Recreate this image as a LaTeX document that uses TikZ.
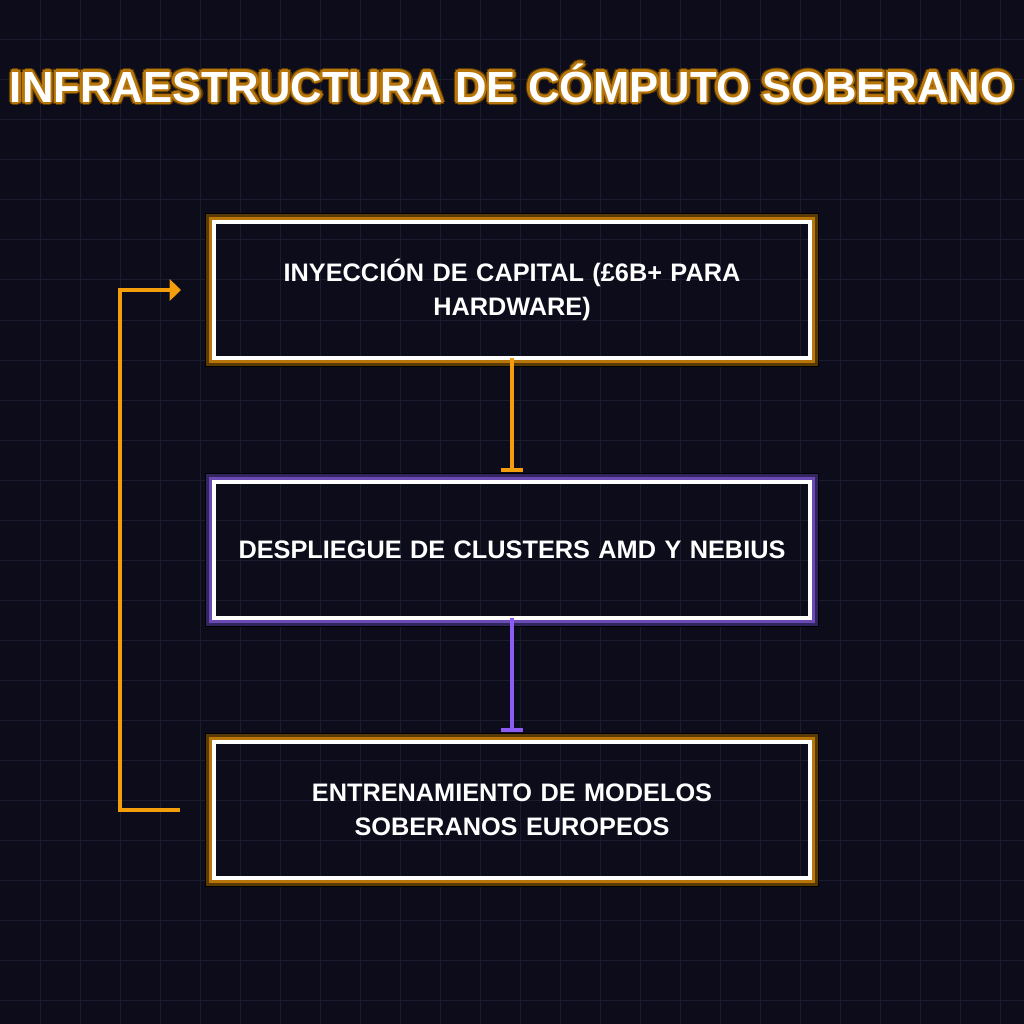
\documentclass[tikz,border=0pt]{standalone}
\usepackage{fontspec}
\setmainfont{Liberation Sans}
\usetikzlibrary{arrows.meta}

\definecolor{bgnavy}{HTML}{0C0C1A}
\definecolor{gridnavy}{HTML}{1C1C30}
\definecolor{amber}{HTML}{F59E0B}
\definecolor{amberglow}{HTML}{B8760A}
\definecolor{amberdark}{HTML}{5A3A05}
\definecolor{violet}{HTML}{8B5CF6}
\definecolor{violetglow}{HTML}{6A4BB5}
\definecolor{violetdark}{HTML}{33265F}

\tikzset{
    stage/.style={draw=white, line width=1mm, minimum width=149mm, minimum height=34mm,
        inner sep=0pt, outer sep=0pt, text width=140mm, align=center, text=white,
        font=\fontsize{18}{24}\selectfont\bfseries},
    headline/.style={font=\fontsize{31}{34}\selectfont\bfseries, inner sep=0pt},
    flow/.style={line width=1mm, -{Bar[width=15pt]}, shorten >=2.5mm},
}

\begin{document}
\begin{tikzpicture}[x=0.25mm, y=-0.25mm]
    \useasboundingbox (0,0) rectangle (1024,1024);
    \fill[bgnavy] (0,0) rectangle (1024,1024);
    \foreach \g in {40,80,...,1000} {
      \draw[gridnavy, line width=0.25mm] (\g,0) -- (\g,1024);
      \draw[gridnavy, line width=0.25mm] (0,\g) -- (1024,\g);
    }
    % title with its halo
    \foreach \a in {0,45,...,315} {
      \node[headline, text=amberdark] (halo\a) at ([shift={(\a:3.8)}]512,83) {INFRAESTRUCTURA DE CÓMPUTO SOBERANO};
    }
    \foreach \a in {0,45,...,315} {
      \node[headline, text=amberglow] (ring\a) at ([shift={(\a:2.4)}]512,83) {INFRAESTRUCTURA DE CÓMPUTO SOBERANO};
    }
    \node[headline, text=white] (title) at (512,83) {INFRAESTRUCTURA DE CÓMPUTO SOBERANO};

    \node[stage] (cap) at (512,290) {INYECCIÓN DE CAPITAL (£6B+ PARA\\HARDWARE)};
    \node[stage] (run) at (512,550) {DESPLIEGUE DE CLUSTERS AMD Y NEBIUS};
    \node[stage] (train) at (512,810) {ENTRENAMIENTO DE MODELOS\\SOBERANOS EUROPEOS};

    \foreach \n/\c/\d in {cap/amberglow/amberdark,run/violetglow/violetdark,train/amberglow/amberdark} {
      \draw[black, line width=0.25mm] ([shift={(-8.5,-8.5)}]\n.north west) rectangle ([shift={(8.5,8.5)}]\n.south east);
      \draw[\d, line width=0.75mm] ([shift={(-6.5,-6.5)}]\n.north west) rectangle ([shift={(6.5,6.5)}]\n.south east);
      \draw[\c, line width=0.75mm] ([shift={(-3.5,-3.5)}]\n.north west) rectangle ([shift={(3.5,3.5)}]\n.south east);
    }

    \draw[flow, amber] (cap) -- (run);
    \draw[flow, violet] (run) -- (train);
    \draw[amber, line width=1mm, -{Triangle[length=8pt,width=15pt]}, shorten <=8.5mm, shorten >=8.25mm]
      (train.west) -- ++(-94,0) |- (cap.west);
  \end{tikzpicture}
\end{document}
